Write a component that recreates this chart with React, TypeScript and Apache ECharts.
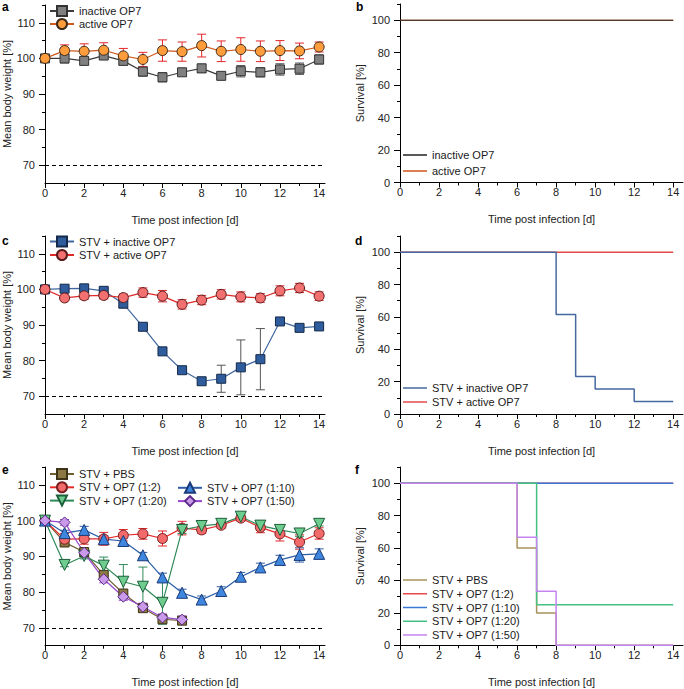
import React, { useEffect, useRef } from 'react';
import * as echarts from 'echarts';

const FONT = '"Liberation Sans", Arial, sans-serif';

// ---------- data ----------
const days = [0, 1, 2, 3, 4, 5, 6, 7, 8, 9, 10, 11, 12, 13, 14];
const days7 = [0, 1, 2, 3, 4, 5, 6, 7];
const xMajor = [0, 2, 4, 6, 8, 10, 12, 14];
const xMinor = [1, 3, 5, 7, 9, 11, 13];
const wMajor = [70, 80, 90, 100, 110];
const wMinor = [75, 85, 95, 105, 115];
const sMajor = [0, 20, 40, 60, 80, 100];
const sMinor = [10, 30, 50, 70, 90, 110];

// panel a: body weight
const aInactive = [100, 100, 99.3, 100.8, 99.3, 96.3, 94.7, 96.1, 97.2, 95.1, 96.4, 96.1, 96.9, 97.1, 99.7];
const aInactiveErr = [0, 1.3, 0.8, 1.0, 1.0, 1.3, 1.3, 0.8, 1.2, 1.0, 1.6, 1.3, 1.6, 1.6, 1.3];
const aActive = [100, 102.2, 102.0, 102.3, 100.7, 99.7, 102.2, 101.9, 103.6, 102.0, 102.5, 102.0, 102.2, 102.1, 103.2];
const aActiveErr = [0, 1.6, 2.1, 2.1, 2.1, 2.0, 3.0, 2.7, 3.2, 2.9, 3.3, 2.9, 2.8, 2.2, 1.4];

// panel b: survival
const bInactiveT = [0, 14];
const bInactiveS = [100, 100];
const bActiveT = [0, 14];
const bActiveS = [100, 100];

// panel c: body weight
const cInactive = [100, 100.2, 100.3, 99.6, 96.0, 89.5, 82.6, 77.3, 74.2, 74.9, 78.1, 80.4, 91.0, 89.2, 89.6];
const cInactiveErr = [0, 0.5, 0.5, 0.6, 1.2, 1.0, 0.6, 0.6, 0.6, 3.8, 7.7, 8.6, 0.5, 0.5, 0.5];
const cActive = [100, 97.6, 98.2, 98.3, 97.7, 99.1, 98.1, 95.8, 97.0, 98.6, 97.9, 97.6, 99.6, 100.4, 98.1];
const cActiveErr = [0, 0.8, 1.0, 1.0, 1.0, 1.3, 1.6, 1.3, 1.3, 1.3, 1.4, 1.2, 1.4, 1.3, 1.2];

// panel d: survival
const dInactiveT = [0, 8, 9, 10, 12, 14];
const dInactiveS = [100, 61.5, 23.1, 15.4, 7.7, 7.7];
const dActiveT = [0, 14];
const dActiveS = [100, 100];

// panel e: body weight
const ePBS = [100, 93.9, 91.2, 84.8, 79.6, 75.5, 72.4, 72.0];
const ePBSErr = [0, 1.2, 1.0, 1.0, 1.0, 1.0, 1.0, 0.8];
const e12 = [100, 94.8, 94.9, 94.9, 95.9, 96.3, 95.0, 97.9, 97.4, 98.7, 100.7, 98.1, 96.3, 94.0, 96.4];
const e12Err = [0, 1.6, 1.5, 1.8, 1.6, 1.5, 2.1, 1.9, 1.0, 0.8, 0.8, 1.5, 2.0, 2.0, 1.6];
const e110 = [100, 96.5, 97.4, 94.8, 94.3, 90.3, 84.1, 79.8, 77.9, 80.3, 84.3, 86.9, 89.0, 90.4, 90.7];
const e110Err = [0, 0.8, 1.0, 1.0, 0.8, 0.8, 1.2, 1.0, 1.0, 1.2, 1.2, 1.2, 1.3, 2.0, 1.4];
const e120 = [100, 87.6, 90.1, 87.4, 82.9, 81.5, 77.0, 97.4, 98.5, 99.1, 101.1, 98.6, 97.4, 96.4, 99.1];
const e120Err = [0, 0.5, 0.8, 2.4, 4.8, 5.5, 6.0, 1.0, 0.8, 0.8, 0.6, 0.8, 0.8, 0.8, 0.6];
const e150 = [100, 99.5, 91.0, 83.6, 78.7, 75.9, 72.9, 72.3];
const e150Err = [0, 0.8, 1.0, 1.0, 1.0, 1.0, 1.0, 1.0];

// panel f: survival
const fPBST = [0, 6, 7, 8, 14];
const fPBSS = [100, 60, 20, 0, 0];
const f12T = [0, 14];
const f12S = [100, 100];
const f110T = [0, 14];
const f110S = [100, 100];
const f120T = [0, 7, 14];
const f120S = [100, 25, 25];
const f150T = [0, 6, 7, 8, 14];
const f150S = [100, 66.7, 33.3, 0, 0];

// ---------- layout ----------
const grids = [
  { left: 45, top: 5, width: 280, height: 178, xMax: 14.3, kind: 'w' },
  { left: 400, top: 4, width: 283, height: 178.5, xMax: 14.5, kind: 's' },
  { left: 45, top: 236, width: 280, height: 178, xMax: 14.3, kind: 'w' },
  { left: 400, top: 236, width: 283, height: 178, xMax: 14.5, kind: 's' },
  { left: 45, top: 467, width: 280, height: 178.7, xMax: 14.3, kind: 'w' },
  { left: 400, top: 467, width: 283, height: 178.3, xMax: 14.5, kind: 's' },
];

const zip = (xs: number[], ys: number[]) => xs.map((x, i) => [x, ys[i]]);

const errRender = (color: string) => (params: any, api: any) => {
  const x = api.value(0);
  const p1 = api.coord([x, api.value(1)]);
  const p2 = api.coord([x, api.value(2)]);
  const w = 4.5;
  const st = { stroke: color, lineWidth: 1 };
  return {
    type: 'group',
    children: [
      { type: 'line', shape: { x1: p1[0], y1: p1[1], x2: p2[0], y2: p2[1] }, style: st },
      { type: 'line', shape: { x1: p1[0] - w, y1: p1[1], x2: p1[0] + w, y2: p1[1] }, style: st },
      { type: 'line', shape: { x1: p2[0] - w, y1: p2[1], x2: p2[0] + w, y2: p2[1] }, style: st },
    ],
  };
};

function weightSeries(
  gi: number, name: string, xs: number[], vals: number[], errs: number[],
  symbol: string, size: number, line: string, fill: string, border: string, errColor: string, dashed = false,
) {
  const out: any[] = [];
  out.push({
    type: 'custom',
    name: name + '#err',
    xAxisIndex: gi * 2,
    yAxisIndex: gi * 2,
    silent: true,
    z: 2,
    encode: { x: 0, y: [1, 2] },
    data: xs.map((x, i) => [x, vals[i] - errs[i], vals[i] + errs[i]]).filter((_, i) => errs[i] > 0),
    renderItem: errRender(errColor),
  });
  const s: any = {
    type: 'line',
    name,
    xAxisIndex: gi * 2,
    yAxisIndex: gi * 2,
    data: zip(xs, vals),
    symbol,
    symbolSize: size,
    showAllSymbol: true,
    z: 3,
    lineStyle: { color: line, width: 1.2 },
    itemStyle: { color: fill, borderColor: border, borderWidth: 1 },
  };
  if (dashed) {
    s.markLine = {
      silent: true,
      symbol: ['none', 'none'],
      label: { show: false },
      lineStyle: { color: '#000', type: [4, 3], width: 1 },
      data: [{ yAxis: 70 }],
    };
  }
  out.push(s);
  return out;
}

function survSeries(gi: number, name: string, ts: number[], ss: number[], color: string, width = 1.5) {
  return {
    type: 'line',
    name,
    xAxisIndex: gi * 2,
    yAxisIndex: gi * 2,
    data: zip(ts, ss),
    step: 'end',
    symbol: 'none',
    lineStyle: { color, width },
    itemStyle: { color },
  };
}

function buildAxes() {
  const xAxis: any[] = [];
  const yAxis: any[] = [];
  const lab = { fontSize: 11, color: '#222', fontFamily: FONT, fontWeight: 'normal' as const };
  grids.forEach((g, gi) => {
    xAxis.push({
      type: 'value', gridIndex: gi, position: 'bottom', min: 0, max: g.xMax,
      axisLine: { show: true, onZero: false, lineStyle: { color: '#000', width: 1 } },
      axisTick: { show: true, customValues: xMajor, length: 5, lineStyle: { color: '#000' } },
      axisLabel: { customValues: xMajor, margin: 4, ...lab },
      splitLine: { show: false },
      name: 'Time post infection [d]', nameLocation: 'middle', nameGap: 31,
      nameTextStyle: { ...lab },
    });
    xAxis.push({
      type: 'value', gridIndex: gi, position: 'bottom', min: 0, max: g.xMax,
      axisLine: { show: false, onZero: false },
      axisTick: { show: true, customValues: xMinor, length: 3, lineStyle: { color: '#000' } },
      axisLabel: { show: false },
      splitLine: { show: false },
    });
    const isW = g.kind === 'w';
    yAxis.push({
      type: 'value', gridIndex: gi, position: 'left',
      min: isW ? 65 : 0, max: isW ? 115 : 110,
      axisLine: { show: true, onZero: false, lineStyle: { color: '#000', width: 1 } },
      axisTick: { show: true, customValues: isW ? wMajor : sMajor, length: 6, lineStyle: { color: '#000' } },
      axisLabel: { customValues: isW ? wMajor : sMajor, margin: 10, ...lab },
      splitLine: { show: false },
      name: isW ? 'Mean body weight [%]' : 'Survival [%]',
      nameLocation: 'middle', nameRotate: 90, nameGap: isW ? 30 : 35,
      nameTextStyle: { ...lab },
    });
    yAxis.push({
      type: 'value', gridIndex: gi, position: 'left',
      min: isW ? 65 : 0, max: isW ? 115 : 110,
      axisLine: { show: false, onZero: false },
      axisTick: { show: true, customValues: isW ? wMinor : sMinor, length: 3, lineStyle: { color: '#000' } },
      axisLabel: { show: false },
      splitLine: { show: false },
    });
  });
  return { xAxis, yAxis };
}

const fmt = (n: string) => n.split('|')[1];

function legend(left: number, top: number, gap: number, data: string[], lineOnly: boolean) {
  const l: any = {
    left, top, orient: 'vertical', padding: 0,
    itemWidth: 24, itemHeight: lineOnly ? 1.5 : 12.5, itemGap: gap,
    selectedMode: false,
    data,
    formatter: fmt,
    textStyle: { fontSize: 11, color: '#1a1a1a', fontFamily: FONT, lineHeight: 12 },
  };
  if (lineOnly) l.icon = 'rect';
  return l;
}

export default function App() {
  const ref = useRef<HTMLDivElement>(null);
  useEffect(() => {
    if (!ref.current) return;
    const chart = echarts.init(ref.current, undefined, { renderer: 'svg' });
    const { xAxis, yAxis } = buildAxes();
    const series: any[] = [
      // a
      ...weightSeries(0, 'a|inactive OP7', days, aInactive, aInactiveErr, 'rect', 9, '#3c3c3c', '#808080', '#333', '#555', true),
      ...weightSeries(0, 'a|active OP7', days, aActive, aActiveErr, 'circle', 10, '#cf5a1e', '#ff9c3c', '#3a2a1a', '#e3262b'),
      // b
      survSeries(1, 'b|active OP7', bActiveT, bActiveS, '#d2541b', 1.1),
      survSeries(1, 'b|inactive OP7', bInactiveT, bInactiveS, '#222222', 1.1),
      // c
      ...weightSeries(2, 'c|STV + inactive OP7', days, cInactive, cInactiveErr, 'rect', 9, '#41679f', '#2f5c9c', '#152a4a', '#555', true),
      ...weightSeries(2, 'c|STV + active OP7', days, cActive, cActiveErr, 'circle', 10, '#e02a2a', '#f27070', '#5a1a1a', '#e3262b'),
      // d
      survSeries(3, 'd|STV + active OP7', dActiveT, dActiveS, '#e04a4a'),
      survSeries(3, 'd|STV + inactive OP7', dInactiveT, dInactiveS, '#46689e'),
      // e
      ...weightSeries(4, 'e|STV + PBS', days7, ePBS, ePBSErr, 'rect', 9, '#6e5e30', '#8b7842', '#3e3418', '#6e5e30', true),
      ...weightSeries(4, 'e|STV + OP7 (1:2)', days, e12, e12Err, 'circle', 10, '#e62a2a', '#f26a6a', '#7a1f1f', '#e3262b'),
      ...weightSeries(4, 'e|STV + OP7 (1:10)', days, e110, e110Err, 'triangle', 11, '#2c5ea8', '#3f86de', '#1a3a78', '#2c5ea8'),
      ...weightSeries(4, 'e|STV + OP7 (1:20)', days, e120, e120Err, 'path://M0,0 L10,0 L5,9 Z', 11, '#2e8a58', '#6dcc8e', '#1d5e3a', '#2e8a58'),
      ...weightSeries(4, 'e|STV + OP7 (1:50)', days7, e150, e150Err, 'diamond', 11, '#9a45d0', '#c99ae9', '#5e2a8a', '#9a45d0'),
      // f
      survSeries(5, 'f|STV + PBS', fPBST, fPBSS, '#a8925a'),
      survSeries(5, 'f|STV + OP7 (1:2)', f12T, f12S, '#e84848'),
      survSeries(5, 'f|STV + OP7 (1:10)', f110T, f110S, '#3a78d8'),
      survSeries(5, 'f|STV + OP7 (1:20)', f120T, f120S, '#45c083'),
      survSeries(5, 'f|STV + OP7 (1:50)', f150T, f150S, '#c585f0'),
    ];
    const panelLabel = (t: string, x: number, y: number) => ({
      type: 'text', x, y,
      style: { text: t, font: `bold 12px ${FONT}`, fill: '#000', textVerticalAlign: 'middle' },
    });
    chart.setOption({
      animation: false,
      backgroundColor: '#fff',
      grid: grids.map((g) => ({ left: g.left, top: g.top, width: g.width, height: g.height, containLabel: false })),
      xAxis,
      yAxis,
      legend: [
        legend(49, 5, 1, ['a|inactive OP7', 'a|active OP7'], false),
        legend(403, 149, 4, ['b|inactive OP7', 'b|active OP7'], true),
        legend(49, 235.5, 1.5, ['c|STV + inactive OP7', 'c|STV + active OP7'], false),
        legend(403, 382, 2, ['d|STV + inactive OP7', 'd|STV + active OP7'], true),
        legend(49, 468, 1.3, ['e|STV + PBS', 'e|STV + OP7 (1:2)', 'e|STV + OP7 (1:20)'], false),
        legend(177, 481.8, 1.3, ['e|STV + OP7 (1:10)', 'e|STV + OP7 (1:50)'], false),
        legend(403, 574, 1.75, ['f|STV + PBS', 'f|STV + OP7 (1:2)', 'f|STV + OP7 (1:10)', 'f|STV + OP7 (1:20)', 'f|STV + OP7 (1:50)'], true),
      ],
      graphic: [
        panelLabel('a', 2, 7),
        panelLabel('b', 356, 7),
        panelLabel('c', 2, 241),
        panelLabel('d', 355, 241),
        panelLabel('e', 2, 470),
        panelLabel('f', 355, 470),
      ],
      series,
    });
    return () => chart.dispose();
  }, []);
  return (
    <div
      ref={ref}
      style={{ position: 'fixed', left: 0, top: 0, width: 684, height: 689, background: '#fff' }}
    />
  );
}
